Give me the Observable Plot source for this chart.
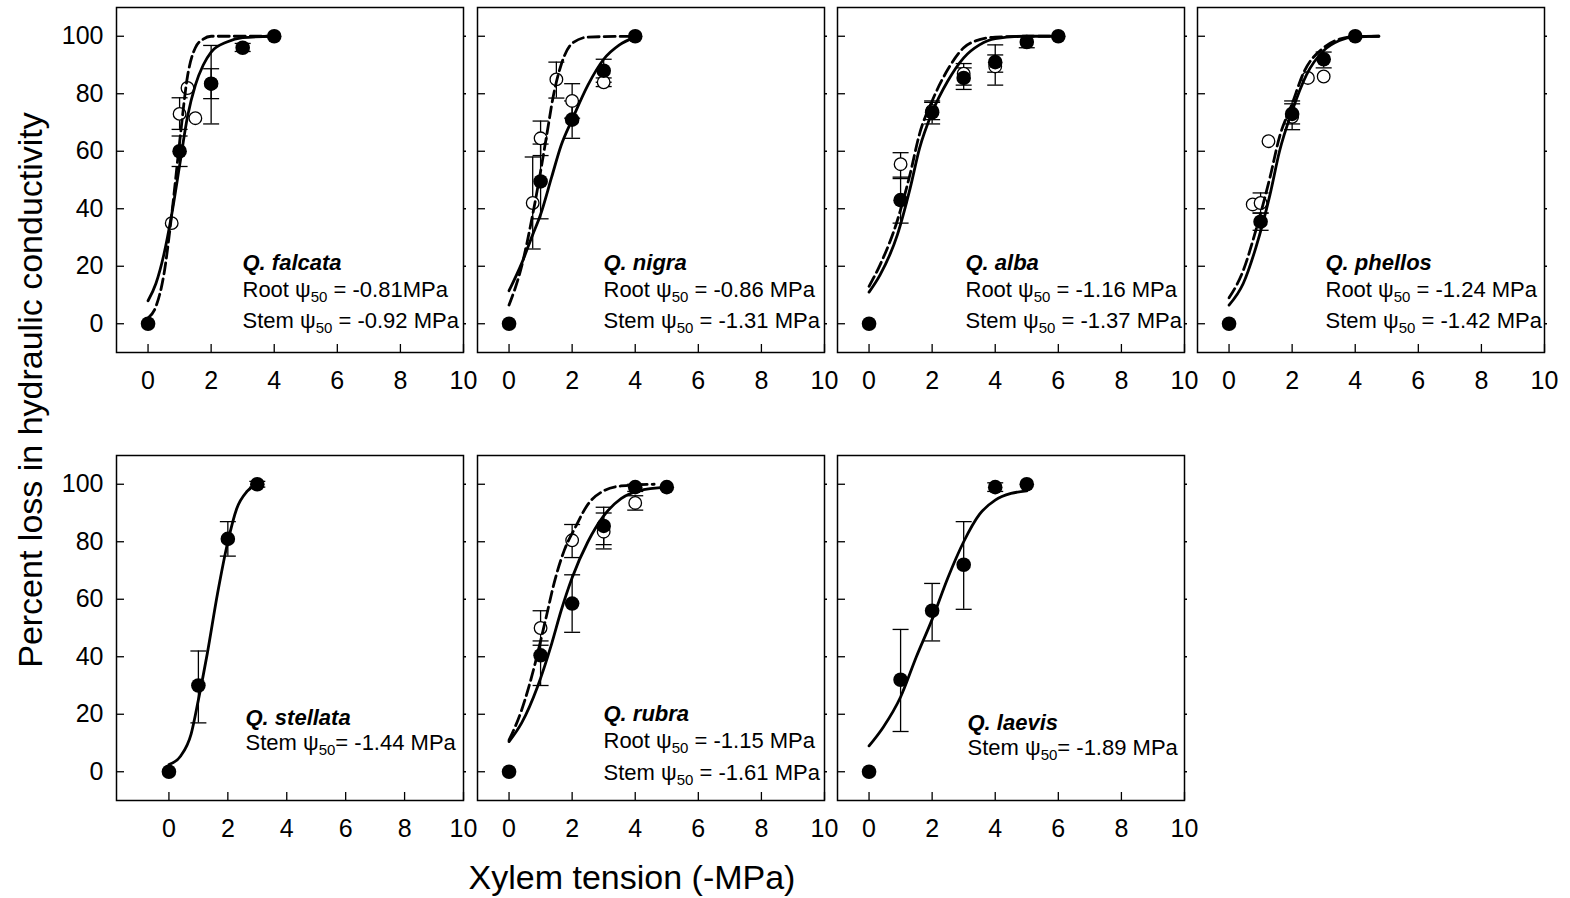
<!DOCTYPE html>
<html><head><meta charset="utf-8">
<script src="https://cdn.jsdelivr.net/npm/d3@7"></script>
<script src="https://cdn.jsdelivr.net/npm/@observablehq/plot@0.6"></script>
<style>
body{margin:0;background:#fff;}
#chart{position:relative;width:1570px;height:898px;overflow:hidden;font-family:"Liberation Sans",Arial,sans-serif;background:#fff;}
.title{position:absolute;font-size:34px;white-space:nowrap;color:#000;line-height:1;}
</style></head><body><div id="chart"></div>
<script>
// ---------- data ----------
const xTicks = [0, 2, 4, 6, 8, 10];
const yTicks = [0, 20, 40, 60, 80, 100];
const speciesNames = ["Q. falcata", "Q. nigra", "Q. alba", "Q. phellos", "Q. stellata", "Q. rubra", "Q. laevis"];
const rootPsi50 = ["-0.81MPa", "-0.86 MPa", "-1.16 MPa", "-1.24 MPa", null, "-1.15 MPa", null];
const stemPsi50 = ["-0.92 MPa", "-1.31 MPa", "-1.37 MPa", "-1.42 MPa", "-1.44 MPa", "-1.61 MPa", "-1.89 MPa"];

// stem = filled circles / solid curve ; root = open circles / dashed curve
// points: [x, y]; errors: [x, low, high]
const falcataStem = [[0,0],[1,60],[2,83.5],[3,96],[4,100]];
const falcataStemErr = [[1,54.7,65.3],[2,69.5,96.8],[3,94.7,97.5]];
const falcataRoot = [[0.75,35],[1,73],[1.25,82],[1.5,71.5],[2,83.5]];
const falcataRootErr = [[1,67.6,78.6],[2,78.3,88.7]];
const falcataStemCurve = [[0,8],[0.25,14],[0.5,24],[0.75,38],[1,55],[1.25,72],[1.5,83],[1.75,90],[2,94.5],[2.5,98],[3,99.5],[4,100]];
const falcataRootCurve = [[0,2],[0.25,6],[0.5,17],[0.75,38],[1,63],[1.25,86],[1.5,96],[1.75,99],[2,100],[4,100]];

const nigraStem = [[0,0],[1,49.5],[2,71],[3,88],[4,100]];
const nigraStemErr = [[1,36.5,62.5],[2,64.5,77.5],[3,84,92]];
const nigraRoot = [[0.75,42],[1,64.5],[1.5,85],[2,77.5],[3,84]];
const nigraRootErr = [[0.75,26,58],[1,58.5,70.5],[1.5,78.5,91],[2,71.5,83.5],[3,82.5,85.5]];
const nigraStemCurve = [[0,11.5],[0.4,21],[0.75,31],[1,38],[1.35,51],[1.65,62],[2,71],[2.5,83],[3,92],[3.5,97],[4,99.7]];
const nigraRootCurve = [[0,6.5],[0.4,20],[0.75,38],[1,53],[1.2,66],[1.4,79],[1.65,90],[2,97.5],[2.5,99.7],[4,100]];

const albaStem = [[0,0],[1,43],[2,73.5],[3,85.5],[4,91],[5,98],[6,100]];
const albaStemErr = [[1,35,51],[2,69.5,77.5],[3,81.5,90.5],[4,83,97],[5,96,100]];
const albaRoot = [[1,55.5],[2,74],[3,87],[4,89.5]];
const albaRootErr = [[1,50.5,59.5],[2,71,77],[3,83,89],[4,87.5,93.5]];
const albaStemCurve = [[0,11],[0.35,17],[0.9,31],[1.3,47],[1.6,61],[2,73.5],[2.5,84.5],[3,92.5],[3.5,97],[4,99.2],[5,100],[6,100]];
const albaRootCurve = [[0,13],[0.35,20.5],[0.9,36],[1.3,52],[1.6,66],[2,77.5],[2.5,88.5],[3,96],[3.5,98.8],[4,99.7],[5,100],[6,100]];

const phellosStem = [[0,0],[1,35.5],[2,73],[3,92],[4,100]];
const phellosStemErr = [[1,32.5,38.5],[2,67.5,77.5],[3,89,94.5]];
const phellosRoot = [[0.75,41.5],[1,42],[1.25,63.5],[2,72],[2.5,85.5],[3,86]];
const phellosRootErr = [[1,38.5,45.5],[2,69.5,76.5]];
const phellosStemCurve = [[0,6.5],[0.45,14],[0.85,26.5],[1.3,45],[1.6,60],[2,74],[2.45,86.5],[3,95],[3.5,98.5],[4,99.8],[4.75,100]];
const phellosRootCurve = [[0,9],[0.45,18.5],[0.85,32.5],[1.3,51],[1.6,65],[2,76.5],[2.35,87],[3,96],[3.5,99],[4,99.9],[4.75,100]];

const stellataStem = [[0,0],[1,30],[2,81],[3,100]];
const stellataStemErr = [[1,17,42],[2,75,87],[3,99,101]];
const stellataStemCurve = [[0,2.5],[0.4,5.5],[0.75,13],[1,25],[1.3,41],[1.65,62],[2,80],[2.3,91.5],[2.65,97.5],[3,100]];

const rubraStem = [[0,0],[1,40.5],[2,58.5],[3,85.5],[4,99],[5,99]];
const rubraStemErr = [[1,30,45.5],[2,48.5,68.5],[3,79,92],[4,97.5,100]];
const rubraRoot = [[1,50],[2,80.5],[3,83.5],[4,93.5]];
const rubraRootErr = [[1,44,56],[2,74.5,86],[3,77.5,90],[4,91,96]];
const rubraStemCurve = [[0,10.5],[0.4,17],[0.9,29.5],[1.35,44.5],[1.65,56],[2,67.5],[2.5,80],[3,89],[3.55,95],[4.1,97.7],[5,99]];
const rubraRootCurve = [[0,11],[0.4,21.5],[0.8,36.5],[1.15,52.5],[1.45,66.5],[1.75,77],[2.1,85],[2.5,93],[3,97.7],[3.55,99.4],[4.6,100]];

const laevisStem = [[0,0],[1,32],[2,56],[3,72],[4,99],[5,100]];
const laevisStemErr = [[1,14,49.5],[2,45.5,65.5],[3,56.5,87],[4,97.5,100.5]];
const laevisStemCurve = [[0,9],[0.45,15.5],[1,26],[1.5,40],[2,53],[2.5,67.5],[3,80],[3.5,89.5],[4,94.5],[4.5,96.8],[5,97.7]];

// table built from the arrays
const panels = [
  {stem: falcataStem, stemErr: falcataStemErr, root: falcataRoot, rootErr: falcataRootErr, stemCurve: falcataStemCurve, rootCurve: falcataRootCurve},
  {stem: nigraStem, stemErr: nigraStemErr, root: nigraRoot, rootErr: nigraRootErr, stemCurve: nigraStemCurve, rootCurve: nigraRootCurve},
  {stem: albaStem, stemErr: albaStemErr, root: albaRoot, rootErr: albaRootErr, stemCurve: albaStemCurve, rootCurve: albaRootCurve},
  {stem: phellosStem, stemErr: phellosStemErr, root: phellosRoot, rootErr: phellosRootErr, stemCurve: phellosStemCurve, rootCurve: phellosRootCurve},
  {stem: stellataStem, stemErr: stellataStemErr, root: [], rootErr: [], stemCurve: stellataStemCurve, rootCurve: []},
  {stem: rubraStem, stemErr: rubraStemErr, root: rubraRoot, rootErr: rubraRootErr, stemCurve: rubraStemCurve, rootCurve: rubraRootCurve},
  {stem: laevisStem, stemErr: laevisStemErr, root: [], rootErr: [], stemCurve: laevisStemCurve, rootCurve: []}
].map((p, i) => ({...p, name: speciesNames[i], root50: rootPsi50[i], stem50: stemPsi50[i]}));

// ---------- layout (positions only) ----------
const layout = [
  {left: 116, top: 7,   col: 0, xmin: -1,    tx: 126, lines: [90, 63, 31.5]},
  {left: 477, top: 7,   col: 1, xmin: -1,    tx: 126, lines: [90, 63, 31.5]},
  {left: 837, top: 7,   col: 2, xmin: -1,    tx: 128, lines: [90, 63, 31.5]},
  {left: 1197, top: 7,  col: 3, xmin: -1,    tx: 128, lines: [90, 63, 31.5]},
  {left: 116, top: 455, col: 0, xmin: -1.78, tx: 129, lines: [83, 57.5]},
  {left: 477, top: 455, col: 1, xmin: -1,    tx: 126, lines: [87, 60, 27.5]},
  {left: 837, top: 455, col: 2, xmin: -1,    tx: 130, lines: [78, 53]}
];

const FW = 347, FH = 345, mL = 80, mR = 12, mT = 4, mB = 50;
const cap = {draw(ctx, size) { const r = Math.sqrt(size / Math.PI); ctx.moveTo(-r, 0); ctx.lineTo(r, 0); }};
const ex = d => d[0], ey = d => d[1];
const chart = document.getElementById("chart");

panels.forEach((p, i) => {
  const L = layout[i];
  const lines = [{t: p.name, bold: true}];
  if (p.root50) lines.push({t: "Root ψ50 = " + p.root50});
  lines.push({t: "Stem ψ50" + (p.root50 ? " = " : "= ") + p.stem50});
  const textMarks = lines.map((ln, k) => Plot.text([ln.t], {
    text: d => d, frameAnchor: "bottom-left", dx: L.tx, dy: -L.lines[k],
    textAnchor: "start", lineAnchor: "middle", fontSize: 22, fill: "black",
    fontWeight: ln.bold ? "bold" : "normal", fontStyle: ln.bold ? "italic" : "normal"
  }));
  const errs = p.stemErr.concat(p.rootErr);
  const svg = Plot.plot({
    width: mL + FW + mR, height: mT + FH + mB,
    marginLeft: mL, marginRight: mR, marginTop: mT, marginBottom: mB,
    style: {fontFamily: "'Liberation Sans', Arial, sans-serif", fontSize: "25px", color: "black", background: "transparent", overflow: "visible"},
    x: {domain: [L.xmin, 10], ticks: xTicks, tickSize: 0, tickPadding: 19, label: null},
    y: {domain: [-10, 110], ticks: yTicks, tickSize: 0, tickPadding: 13, label: null, axis: L.col === 0 ? "left" : null},
    marks: [
      Plot.frame({stroke: "black", strokeWidth: 1.5}),
      Plot.tickX(xTicks, {x: d => d, insetTop: FH - 8, stroke: "black", strokeWidth: 1.3}),
      Plot.tickY(yTicks, {y: d => d, insetRight: FW - 8, stroke: "black", strokeWidth: 1.3}),
      Plot.tickY(yTicks, {y: d => d, insetLeft: FW, insetRight: -3, stroke: "black", strokeWidth: 1.5}),
      Plot.ruleX(errs, {x: ex, y1: d => d[1], y2: d => d[2], stroke: "black", strokeWidth: 1.3}),
      Plot.dot(errs, {x: ex, y: d => d[1], symbol: cap, r: 8, fill: "none", stroke: "black", strokeWidth: 1.3}),
      Plot.dot(errs, {x: ex, y: d => d[2], symbol: cap, r: 8, fill: "none", stroke: "black", strokeWidth: 1.3}),
      Plot.dot(p.root, {x: ex, y: ey, r: 6.3, fill: "white", stroke: "black", strokeWidth: 1.3}),
      Plot.line(p.rootCurve, {x: ex, y: ey, curve: "monotone-x", stroke: "black", strokeWidth: 2.8, strokeDasharray: "11,5"}),
      Plot.line(p.stemCurve, {x: ex, y: ey, curve: "monotone-x", stroke: "black", strokeWidth: 2.8}),
      Plot.dot(p.stem, {x: ex, y: ey, r: 7.3, fill: "black", stroke: "none"}),
      ...textMarks
    ]
  });
  svg.style.position = "absolute";
  svg.style.left = (L.left - mL) + "px";
  svg.style.top = (L.top - mT) + "px";
  svg.style.maxWidth = "none";
  // subscripts for psi50
  svg.querySelectorAll("text").forEach(el => {
    if (el.childElementCount === 0 && el.textContent.includes("ψ50")) {
      const [a, b] = el.textContent.split("ψ50");
      el.textContent = "";
      el.append(a + "ψ");
      const ns = "http://www.w3.org/2000/svg";
      const sub = document.createElementNS(ns, "tspan");
      sub.setAttribute("font-size", "15");
      sub.setAttribute("dy", "5");
      sub.textContent = "50";
      const rest = document.createElementNS(ns, "tspan");
      rest.setAttribute("dy", "-5");
      rest.textContent = b;
      el.append(sub, rest);
    }
  });
  chart.appendChild(svg);
});

const yt = document.createElement("div");
yt.className = "title";
yt.textContent = "Percent loss in hydraulic conductivity";
yt.style.left = "30px"; yt.style.top = "390px";
yt.style.transform = "translate(-50%,-50%) rotate(-90deg)";
chart.appendChild(yt);

const xt = document.createElement("div");
xt.className = "title";
xt.textContent = "Xylem tension (-MPa)";
xt.style.left = "632px"; xt.style.top = "877px";
xt.style.transform = "translate(-50%,-50%)";
chart.appendChild(xt);
</script></body></html>
